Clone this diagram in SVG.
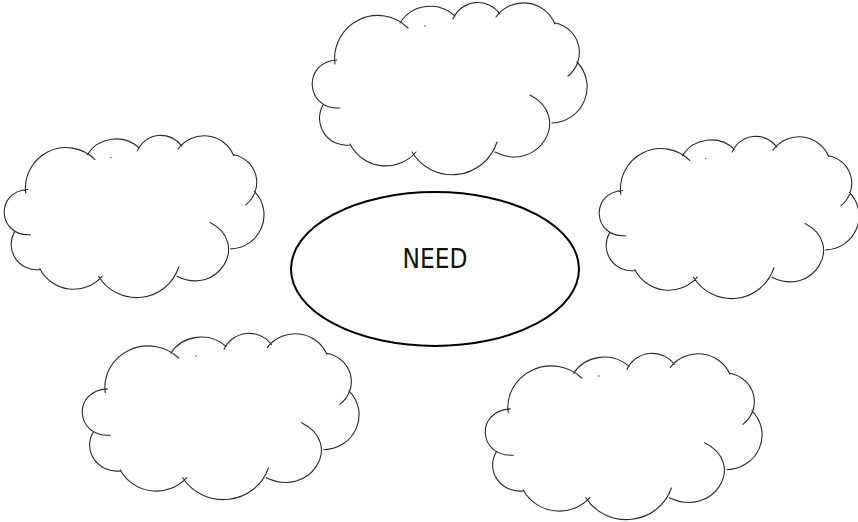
<svg xmlns="http://www.w3.org/2000/svg" xmlns:xlink="http://www.w3.org/1999/xlink" width="858" height="522" viewBox="0 0 858 522">
  <style>
    .cloud { fill: none; stroke: #2a2a2a; stroke-width: 1.1; stroke-linecap: round; vector-effect: non-scaling-stroke; }
    .dot { fill: #555; }
    .center { fill: #fff; stroke: #000; stroke-width: 2; }
    .label { font-family: "DejaVu Sans Condensed", "DejaVu Sans", sans-serif; font-stretch: condensed; font-size: 26.5px; fill: #111; }
  </style>
  <defs>
    <g id="cloudShape">
      <path class="cloud" d="M50,145 A27,27 0 0 1 23,105
        M40,108 C5,110 2,62 37,60
        M35,64 A43,43 0 0 1 108,28
        M100,23 A36,36 0 0 1 155,16
        M153,19 A27,27 0 0 1 200,14
        M196,17 A34,34 0 0 1 255,24
        M255,23 A30,30 0 0 1 268,76
        M277,62 A36,36 0 0 1 252,123
        M230,95 C273,117 238,174 195,152
        M197,142 A47,47 0 0 1 112,152
        M116,152 A40,40 0 0 1 50,144"/>
      <circle class="dot" cx="125" cy="26" r="0.8"/>
    </g>
  </defs>
  <rect width="858" height="522" fill="#fff"/>

  <g id="cloud-top" transform="translate(300,0)">
    <use xlink:href="#cloudShape" href="#cloudShape"/>
  </g>
  <g id="cloud-left" transform="translate(-7.3,133) scale(0.945,0.942)">
    <use xlink:href="#cloudShape" href="#cloudShape"/>
  </g>
  <g id="cloud-right" transform="translate(587.7,134) scale(0.945,0.942)">
    <use xlink:href="#cloudShape" href="#cloudShape"/>
  </g>
  <g id="cloud-bottom-left" transform="translate(70,331) scale(1.007,0.965)">
    <use xlink:href="#cloudShape" href="#cloudShape"/>
  </g>
  <g id="cloud-bottom-right" transform="translate(473,351) scale(1.007,0.965)">
    <use xlink:href="#cloudShape" href="#cloudShape"/>
  </g>

  <g id="need">
    <ellipse class="center" cx="435" cy="269" rx="144" ry="77"/>
    <text class="label" x="435" y="268.3" text-anchor="middle" textLength="65" lengthAdjust="spacingAndGlyphs">NEED</text>
  </g>

  <g id="connectors"></g>
</svg>
